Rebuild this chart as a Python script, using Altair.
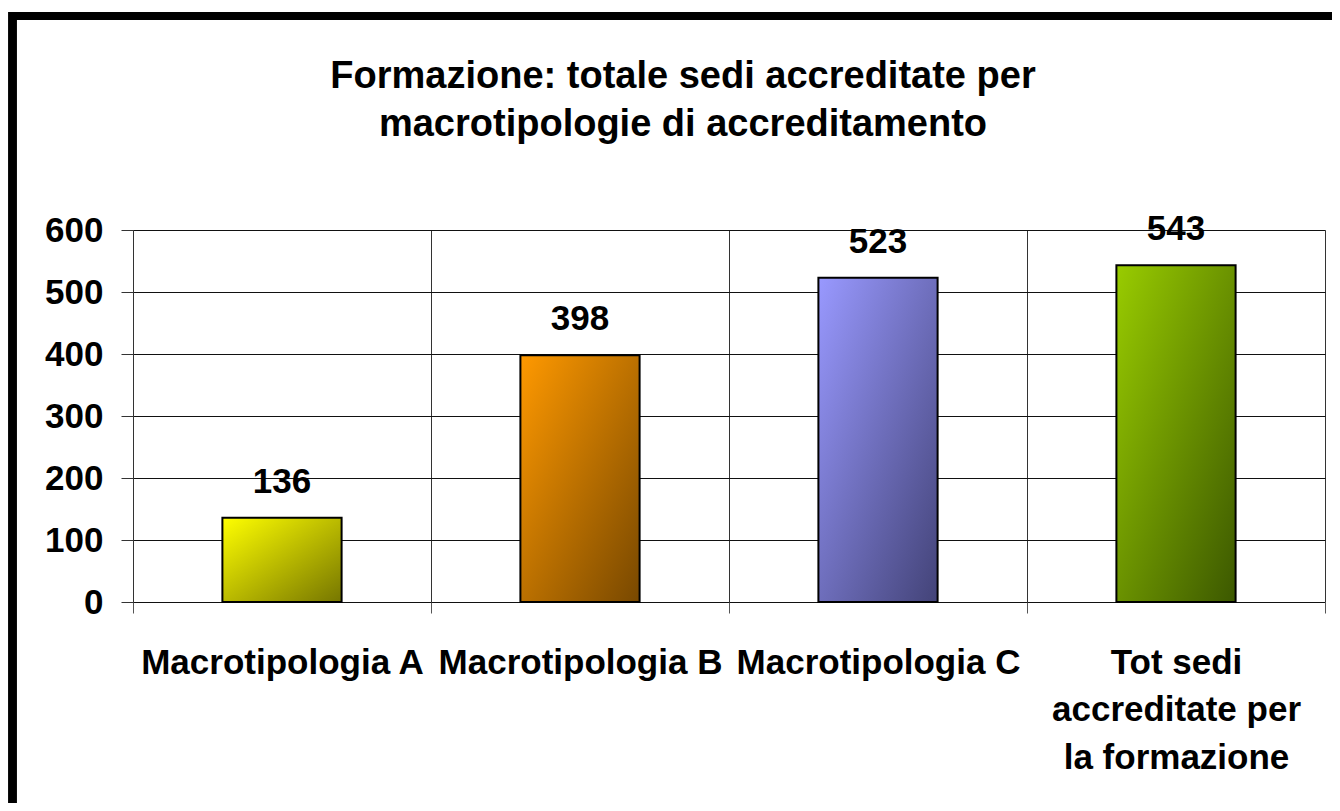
import altair as alt
import pandas as pd

categories = ["Macrotipologia A", "Macrotipologia B", "Macrotipologia C",
              "Tot sedi accreditate per la formazione"]
values = [136, 398, 523, 543]
label_lines = [["Macrotipologia A"], ["Macrotipologia B"], ["Macrotipologia C"],
               ["Tot sedi", "accreditate per", "la formazione"]]
light_colors = ["#FFFF00", "#FF9900", "#9999FF", "#99CC00"]
dark_colors = ["#767600", "#784800", "#434378", "#3C5800"]
y_ticks = [0, 100, 200, 300, 400, 500, 600]
title_lines = ["Formazione: totale sedi accreditate per",
               "macrotipologie di accreditamento"]

FONT = "Liberation Sans"
W, H = 1192, 372

df = pd.DataFrame({"cat": categories, "val": values})

# label expression for multi-line category labels
expr = "datum.value"
for c, lines in zip(categories, label_lines):
    arr = "[" + ",".join("'" + l + "'" for l in lines) + "]"
    expr = f"datum.value == '{c}' ? {arr} : ({expr})"

x_enc = alt.X("cat:N", sort=categories, title=None,
              scale=alt.Scale(paddingInner=0, paddingOuter=0),
              axis=alt.Axis(labelAngle=0, labelFont=FONT, labelFontSize=35,
                            labelFontWeight="bold", labelColor="black",
                            labelLineHeight=47.5, labelExpr=expr,
                            labelPadding=32, tickSize=11, tickColor="#555555",
                            tickBand="extent", grid=True, gridColor="#333333",
                            gridWidth=1, domain=False, labelLimit=400))
y_enc = alt.Y("val:Q", title=None,
              scale=alt.Scale(domain=[0, 600], nice=False),
              axis=alt.Axis(values=y_ticks, labelFont=FONT, labelFontSize=35,
                            labelFontWeight="bold", labelColor="black",
                            labelPadding=18, tickSize=12, tickColor="#333333",
                            domainColor="#333333", grid=True, gridColor="#111111",
                            gridWidth=1))

base = alt.Chart(df)
layers = []
for i, c in enumerate(categories):
    grad = alt.Gradient(gradient="linear",
                        stops=[alt.GradientStop(color=light_colors[i], offset=0),
                               alt.GradientStop(color=dark_colors[i], offset=1)],
                        x1=0, y1=0, x2=1, y2=1)
    layers.append(
        base.transform_filter(alt.datum.cat == c)
        .mark_bar(color=grad, stroke="black", strokeWidth=2,
                  width=alt.RelativeBandSize(0.4))
        .encode(x=x_enc, y=y_enc)
    )

texts = base.mark_text(font=FONT, fontSize=35, fontWeight="bold", color="black",
                       baseline="alphabetic", dy=-25).encode(
    x=alt.X("cat:N", sort=categories), y="val:Q", text="val:Q")

border_left = base.mark_rule(color="black", strokeWidth=8).encode(
    x=alt.value(-120.5), y=alt.value(-218), y2=alt.value(H + 210))
border_top = base.mark_rule(color="black", strokeWidth=8).encode(
    x=alt.value(-124), x2=alt.value(W + 10), y=alt.value(-214))

chart = alt.layer(*layers, texts, border_left, border_top).properties(
    width=W, height=H,
    title=alt.Title(text=title_lines, font=FONT, fontSize=38, fontWeight="bold",
                    color="black", lineHeight=48, anchor="middle", dx=-46,
                    offset=0, dy=136),
    autosize=alt.AutoSizeParams(type="none"),
    padding={"left": 125, "top": 222, "right": 7, "bottom": 201},
).configure_view(fill="#C0C0C0", stroke="#808080", strokeWidth=1
).configure(background="white")

chart.save("out.html", embed_options={"renderer": "svg", "actions": False})
